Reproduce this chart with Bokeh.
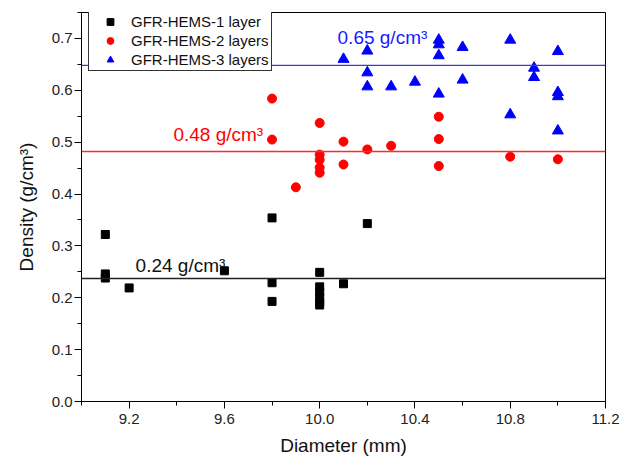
from bokeh.plotting import figure
from bokeh.models import Span, Label, FixedTicker, Legend, LegendItem, Range1d, PrintfTickFormatter
from bokeh.embed import file_html
from bokeh.resources import INLINE

# ---- data ----
black_x = [9.1, 9.1, 9.1, 9.2, 9.6, 9.8, 9.8, 9.8, 10.0, 10.0, 10.0, 10.0, 10.0, 10.0, 10.1, 10.2]
black_y = [0.322, 0.246, 0.238, 0.219, 0.252, 0.354, 0.229, 0.193, 0.249, 0.221, 0.211, 0.201, 0.192, 0.186, 0.227, 0.343]

red_x = [9.8, 9.8, 9.9, 10.0, 10.0, 10.0, 10.0, 10.0, 10.1, 10.1, 10.2, 10.3, 10.5, 10.5, 10.5, 10.8, 11.0]
red_y = [0.584, 0.505, 0.413, 0.537, 0.476, 0.466, 0.451, 0.441, 0.501, 0.457, 0.486, 0.493, 0.549, 0.506, 0.454, 0.472, 0.467]

blue_x = [10.1, 10.2, 10.2, 10.2, 10.3, 10.4, 10.5, 10.5, 10.5, 10.5, 10.6, 10.6, 10.8, 10.8, 10.9, 10.9, 11.0, 11.0, 11.0, 11.0]
blue_y = [0.660, 0.676, 0.634, 0.607, 0.607, 0.616, 0.697, 0.688, 0.667, 0.593, 0.683, 0.620, 0.697, 0.553, 0.643, 0.625, 0.675, 0.596, 0.588, 0.522]

series_names = ["GFR-HEMS-1 layer", "GFR-HEMS-2 layers", "GFR-HEMS-3 layers"]
avg_values = [0.237, 0.482, 0.648]
avg_labels = ["0.24 g/cm\u00b3", "0.48 g/cm\u00b3", "0.65 g/cm\u00b3"]

x_major = [9.2, 9.6, 10.0, 10.4, 10.8, 11.2]
x_minor = [9.0, 9.4, 9.8, 10.2, 10.6, 11.0]
y_major = [0.0, 0.1, 0.2, 0.3, 0.4, 0.5, 0.6, 0.7]
y_minor = [0.05, 0.15, 0.25, 0.35, 0.45, 0.55, 0.65, 0.75]

FONT = "Liberation Sans"

p = figure(width=621, height=461, output_backend="svg", toolbar_location=None,
           x_range=Range1d(9.0, 11.2), y_range=Range1d(0.0, 0.75),
           min_border_left=81, min_border_right=16, min_border_top=12, min_border_bottom=60)
p.grid.visible = False
p.outline_line_color = "black"
p.outline_line_width = 1
p.background_fill_color = "white"
p.border_fill_color = "white"

for ax in (p.xaxis[0], p.yaxis[0]):
    ax.axis_line_color = "black"
    ax.major_tick_line_color = "black"
    ax.minor_tick_line_color = "black"
    ax.major_tick_in = 0
    ax.major_tick_out = 7
    ax.minor_tick_in = 0
    ax.minor_tick_out = 4
    ax.major_label_text_font = FONT
    ax.major_label_text_font_size = "15px"
    ax.major_label_text_color = "#222222"
    ax.axis_label_text_font = FONT
    ax.axis_label_text_font_size = "19px"
    ax.axis_label_text_font_style = "normal"
    ax.axis_label_text_color = "#111111"

p.xaxis.ticker = FixedTicker(ticks=x_major, minor_ticks=x_minor)
p.yaxis.ticker = FixedTicker(ticks=y_major, minor_ticks=y_minor)
p.xaxis.formatter = PrintfTickFormatter(format="%.1f")
p.yaxis.formatter = PrintfTickFormatter(format="%.1f")
p.xaxis.axis_label = "Diameter (mm)"
p.yaxis.axis_label = "Density (g/cm\u00b3)"
p.xaxis.major_label_standoff = 5
p.xaxis.axis_label_standoff = 8
p.yaxis.major_label_standoff = 2
p.yaxis.axis_label_standoff = 12

line_colors = ["#222222", "#ff2a2a", "#3a3ad8"]
label_colors = ["#111111", "#ff0000", "#1a1aff"]
label_pos_x = [9.227, 9.386, 10.075]
label_pos_y = [0.263, 0.514, 0.7025]
for v, c, lw in zip(avg_values, line_colors, [1.5, 1.3, 1.3]):
    p.add_layout(Span(location=v, dimension="width", line_color=c, line_width=lw))

r1 = p.scatter(black_x, black_y, marker="square", size=8, color="black")
r2 = p.scatter(red_x, red_y, marker="circle", size=9, color="#ff0000")
r3 = p.scatter(blue_x, blue_y, marker="triangle", size=11, color="#0000ff")

for t, c, lx, ly in zip(avg_labels, label_colors, label_pos_x, label_pos_y):
    p.add_layout(Label(x=lx, y=ly, text=t, text_color=c, text_font=FONT,
                       text_font_size="19px", text_baseline="alphabetic"))

legend = Legend(items=[LegendItem(label=n, renderers=[r]) for n, r in zip(series_names, [r1, r2, r3])],
                location=(7, 330), margin=0, padding=2, spacing=2,
                glyph_width=38, glyph_height=17, label_height=17, label_standoff=2,
                label_text_font=FONT, label_text_font_size="15px", label_text_color="#111111",
                border_line_color="#333333", border_line_alpha=1.0, border_line_width=1,
                background_fill_color="white", background_fill_alpha=1.0)
p.add_layout(legend)

open("out.html", "w").write(file_html(p, INLINE))
